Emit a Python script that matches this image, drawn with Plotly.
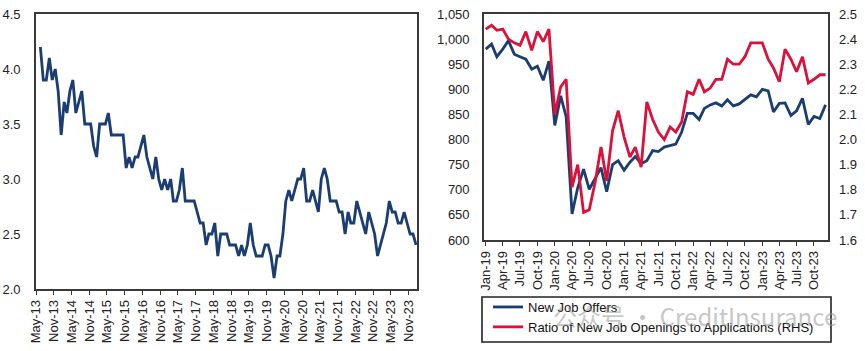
import pandas as pd
import plotly.graph_objects as go

# ---------------- data ----------------
# Left chart: monthly series, May-13 .. Dec-23
left_start = "2013-05-15"
left_values = [
    4.2, 3.9, 3.9, 4.1, 3.9, 4.0, 3.8, 3.4, 3.7, 3.6, 3.8, 3.9,
    3.6, 3.7, 3.8, 3.5, 3.5, 3.5, 3.3, 3.2, 3.5, 3.5, 3.5, 3.6,
    3.4, 3.4, 3.4, 3.4, 3.4, 3.1, 3.2, 3.1, 3.2, 3.2, 3.3, 3.4,
    3.2, 3.1, 3.0, 3.2, 3.0, 2.9, 3.0, 2.9, 3.0, 2.8, 2.8, 2.9,
    3.1, 2.8, 2.8, 2.8, 2.8, 2.7, 2.6, 2.6, 2.4, 2.5, 2.5, 2.6,
    2.3, 2.5, 2.5, 2.5, 2.4, 2.4, 2.4, 2.3, 2.4, 2.3, 2.4, 2.6,
    2.4, 2.3, 2.3, 2.3, 2.4, 2.4, 2.3, 2.1, 2.3, 2.3, 2.5, 2.8,
    2.9, 2.8, 2.9, 3.0, 3.0, 3.1, 2.8, 2.8, 2.9, 2.8, 2.7, 3.0,
    3.1, 3.0, 2.8, 2.8, 2.8, 2.7, 2.7, 2.5, 2.7, 2.6, 2.6, 2.8,
    2.7, 2.6, 2.5, 2.7, 2.6, 2.5, 2.3, 2.4, 2.5, 2.6, 2.8, 2.7,
    2.7, 2.6, 2.6, 2.7, 2.6, 2.5, 2.5, 2.4,
]

# Right chart: monthly series, Jan-19 .. Dec-23
right_start = "2019-01-01"
new_job_offers = [
    980, 990, 965, 980, 997, 970, 965, 960, 940, 946, 918, 956,
    828, 887, 845, 652, 704, 741, 701, 724, 744, 696, 750, 758,
    739, 755, 766, 752, 758, 778, 776, 785, 788, 791, 815, 852,
    852, 840, 862, 869, 873, 867, 879, 867, 871, 879, 889, 885,
    900, 897, 855, 872, 873, 848, 857, 882, 830, 846, 842, 869,
]
ratio_openings_applications = [
    2.44, 2.455, 2.435, 2.44, 2.40, 2.385, 2.375, 2.43, 2.355, 2.43, 2.39, 2.44,
    2.10, 2.21, 2.24, 1.81, 1.90, 1.71, 1.72, 1.83, 1.97, 1.835, 2.035, 2.115,
    2.01, 1.93, 1.97, 1.89, 2.15, 2.08, 2.03, 2.00, 2.05, 2.03, 2.07, 2.19,
    2.18, 2.24, 2.19, 2.205, 2.24, 2.24, 2.32, 2.30, 2.30, 2.33, 2.385, 2.385,
    2.385, 2.32, 2.285, 2.23, 2.36, 2.32, 2.27, 2.33, 2.225, 2.24, 2.258, 2.258,
]

series_names = ["New Job Offers", "Ratio of New Job Openings to Applications (RHS)"]
watermark = "公众号 · CreditInsurance"

left_dates = pd.date_range(left_start, periods=len(left_values), freq="MS") + pd.Timedelta(days=14)
right_dates = pd.date_range(right_start, periods=len(new_job_offers), freq="MS")

# ---------------- style ----------------
W, H = 865, 351
BLUE = "#1B3E72"
RED = "#DC1039"
AX = "#3a3a3a"
FONT = "Liberation Sans, Arial, sans-serif"
TXT = "#222222"

def px_x(a, b):
    return [a / W, b / W]

def px_y(top, bottom):
    return [1 - bottom / H, 1 - top / H]

fig = go.Figure()

fig.add_trace(go.Scatter(x=left_dates, y=left_values, mode="lines",
                         line=dict(color=BLUE, width=2.8), showlegend=False,
                         xaxis="x", yaxis="y"))
fig.add_trace(go.Scatter(x=right_dates, y=new_job_offers, mode="lines",
                         name=series_names[0],
                         line=dict(color=BLUE, width=2.8),
                         xaxis="x2", yaxis="y2"))
fig.add_trace(go.Scatter(x=right_dates, y=ratio_openings_applications, mode="lines",
                         name=series_names[1],
                         line=dict(color=RED, width=2.8),
                         xaxis="x2", yaxis="y3"))

common_line = dict(showline=True, linecolor=AX, linewidth=1.6, mirror=True,
                   showgrid=False, zeroline=False, automargin=False,
                   tickfont=dict(family=FONT, size=13, color=TXT))

lx0, lx1 = px_x(482, 831)
ly0, ly1 = px_y(297, 342)

fig.update_layout(
    template="none",
    width=W, height=H,
    margin=dict(l=0, r=0, t=0, b=0, autoexpand=False),
    paper_bgcolor="white", plot_bgcolor="white",
    font=dict(family=FONT, size=13, color=TXT),
    xaxis=dict(domain=px_x(36, 417), anchor="y", type="date",
               range=["2013-05-01", "2024-01-25"],
               tick0="2013-05-01", dtick="M6", tickformat="%b-%y",
               tickangle=-90, ticks="outside", ticklen=4, tickcolor=AX,
               **common_line),
    yaxis=dict(domain=px_y(14, 289), anchor="x", range=[2.0, 4.5], dtick=0.5,
               tickformat=".1f", ticks="", ticklabelstandoff=11, **common_line),
    xaxis2=dict(domain=px_x(484, 828), anchor="y2", type="date",
                range=["2018-12-23", "2023-12-14"],
                tick0="2019-01-01", dtick="M3", tickformat="%b-%y",
                tickangle=-90, ticks="outside", ticklen=4, tickcolor=AX,
                **common_line),
    yaxis2=dict(domain=px_y(14, 240), anchor="x2", range=[600, 1050], dtick=50,
                tickformat=",", ticks="", ticklabelstandoff=10, **common_line),
    yaxis3=dict(overlaying="y2", anchor="x2", side="right", range=[1.6, 2.5], dtick=0.1,
                tickformat=".1f", ticks="", ticklabelstandoff=10,
                showline=False, showgrid=False, zeroline=False, automargin=False,
                tickfont=dict(family=FONT, size=13, color=TXT)),
    legend=dict(x=488 / W, y=1 - 292 / H, xanchor="left", yanchor="top",
                bgcolor="rgba(0,0,0,0)", borderwidth=0,
                font=dict(family=FONT, size=13, color="#111111"),
                tracegroupgap=0),
    shapes=[dict(type="rect", xref="paper", yref="paper",
                 x0=lx0, x1=lx1, y0=ly0, y1=ly1,
                 line=dict(color="#222222", width=1.6), fillcolor="white",
                 layer="above")],
    annotations=[dict(text=watermark, x=695 / W, y=1 - 315 / H, xref="paper", yref="paper",
                      showarrow=False, xanchor="center", yanchor="middle",
                      font=dict(family="Noto Sans CJK SC", size=24,
                                color="rgba(150,150,150,0.55)"))],
)

fig.write_html("out.html")
